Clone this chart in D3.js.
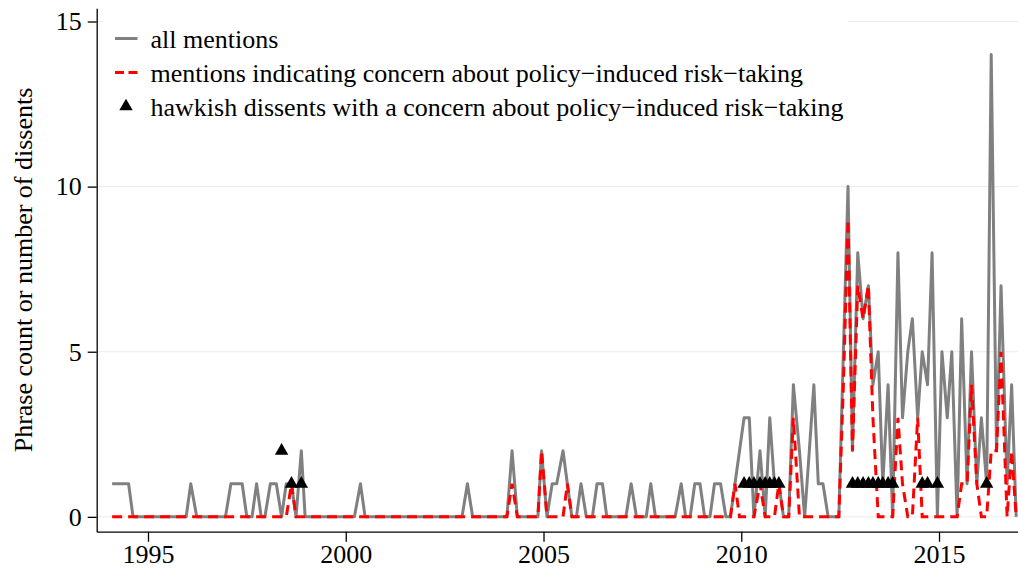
<!DOCTYPE html>
<html>
<head>
<meta charset="utf-8">
<script src="https://cdn.jsdelivr.net/npm/d3@7"></script>
<style>
  html, body { margin: 0; padding: 0; background: #fff; }
  svg { display: block; }
  text { font-family: "Liberation Serif", "Times New Roman", serif; fill: #000; }
</style>
</head>
<body>
<svg id="chart" width="1018" height="571"></svg>
<script>
// FOMC meeting dates (8 scheduled meetings per year)
const meetingDates = [
  "1994-02-04","1994-03-22","1994-05-17","1994-07-06","1994-08-16","1994-09-27","1994-11-15","1994-12-20",
  "1995-02-01","1995-03-28","1995-05-23","1995-07-06","1995-08-22","1995-09-26","1995-11-15","1995-12-19",
  "1996-01-31","1996-03-26","1996-05-21","1996-07-03","1996-08-20","1996-09-24","1996-11-13","1996-12-17",
  "1997-02-05","1997-03-25","1997-05-20","1997-07-02","1997-08-19","1997-09-30","1997-11-12","1997-12-16",
  "1998-02-04","1998-03-31","1998-05-19","1998-07-01","1998-08-18","1998-09-29","1998-11-17","1998-12-22",
  "1999-02-03","1999-03-30","1999-05-18","1999-06-30","1999-08-24","1999-10-05","1999-11-16","1999-12-21",
  "2000-02-02","2000-03-21","2000-05-16","2000-06-28","2000-08-22","2000-10-03","2000-11-15","2000-12-19",
  "2001-01-31","2001-03-20","2001-05-15","2001-06-27","2001-08-21","2001-10-02","2001-11-06","2001-12-11",
  "2002-01-30","2002-03-19","2002-05-07","2002-06-26","2002-08-13","2002-09-24","2002-11-06","2002-12-10",
  "2003-01-29","2003-03-18","2003-05-06","2003-06-25","2003-08-12","2003-09-16","2003-10-28","2003-12-09",
  "2004-01-28","2004-03-16","2004-05-04","2004-06-30","2004-08-10","2004-09-21","2004-11-10","2004-12-14",
  "2005-02-02","2005-03-22","2005-05-03","2005-06-30","2005-08-09","2005-09-20","2005-11-01","2005-12-13",
  "2006-01-31","2006-03-28","2006-05-10","2006-06-29","2006-08-08","2006-09-20","2006-10-25","2006-12-12",
  "2007-01-31","2007-03-21","2007-05-09","2007-06-28","2007-08-07","2007-09-18","2007-10-31","2007-12-11",
  "2008-01-30","2008-03-18","2008-04-30","2008-06-25","2008-08-05","2008-09-16","2008-10-29","2008-12-16",
  "2009-01-28","2009-03-18","2009-04-29","2009-06-24","2009-08-12","2009-09-23","2009-11-04","2009-12-16",
  "2010-01-27","2010-03-16","2010-04-28","2010-06-23","2010-08-10","2010-09-21","2010-11-03","2010-12-14",
  "2011-01-26","2011-03-15","2011-04-27","2011-06-22","2011-08-09","2011-09-21","2011-11-02","2011-12-13",
  "2012-01-25","2012-03-13","2012-04-25","2012-06-20","2012-08-01","2012-09-13","2012-10-24","2012-12-12",
  "2013-01-30","2013-03-20","2013-05-01","2013-06-19","2013-07-31","2013-09-18","2013-10-30","2013-12-18",
  "2014-01-29","2014-03-19","2014-04-30","2014-06-18","2014-07-30","2014-09-17","2014-10-29","2014-12-17",
  "2015-01-28","2015-03-18","2015-04-29","2015-06-17","2015-07-29","2015-09-17","2015-10-28","2015-12-16",
  "2016-01-27","2016-03-16","2016-04-27","2016-06-15","2016-07-27","2016-09-21","2016-11-02","2016-12-14"
];

// all mentions (phrase count per meeting)
const allMentions = [
  1,1,1,1,0,0,0,0,
  0,0,0,0,0,0,0,0,
  1,0,0,0,0,0,0,0,
  1,1,1,0,0,1,0,0,
  1,1,0,1,1,0,2,0,
  0,0,0,0,0,0,0,0,
  0,0,1,0,0,0,0,0,
  0,0,0,0,0,0,0,0,
  0,0,0,0,0,0,0,0,
  1,0,0,0,0,0,0,0,
  0,2,0,0,0,0,0,2,
  0,1,1,2,1,0,0,1,
  0,0,1,1,0,0,0,0,
  0,1,0,0,0,1,0,0,
  0,0,0,1,0,0,1,1,
  0,0,1,1,0,0,1,2,
  3,3,0,2,0,3,1,1,
  0,0,4,2,0,2,4,1,
  1,0,0,0,5,10,2,8,
  6,7,4,5,1,4,0,8,
  3,5,6,3,5,4,8,0,
  5,3,5,0,6,1,5,1,
  3,1,14,2,7,1,4,0
];

// mentions indicating concern about policy-induced risk-taking
const concernMentions = [
  0,0,0,0,0,0,0,0,
  0,0,0,0,0,0,0,0,
  0,0,0,0,0,0,0,0,
  0,0,0,0,0,0,0,0,
  0,0,0,0,1,0,0,0,
  0,0,0,0,0,0,0,0,
  0,0,0,0,0,0,0,0,
  0,0,0,0,0,0,0,0,
  0,0,0,0,0,0,0,0,
  0,0,0,0,0,0,0,0,
  0,1,0,0,0,0,0,2,
  0,0,0,0,1,0,0,0,
  0,0,0,0,0,0,0,0,
  0,0,0,0,0,0,0,0,
  0,0,0,0,0,0,0,0,
  0,0,0,0,0,0,1,0,
  0,0,0,1,0,0,0,1,
  0,0,3,0,0,0,0,0,
  0,0,0,0,4,9,2,7,
  6,7,3,0,0,0,0,3,
  1,0,0,3,0,0,0,0,
  0,0,0,0,1,1,4,1,
  0,0,2,2,5,0,2,0
];

// hawkish dissents with a concern about policy-induced risk-taking
const dissentDates = [
  "1998-05-19","1998-08-18","1998-11-17",
  "2010-01-27","2010-03-16","2010-04-28","2010-06-23","2010-08-10","2010-09-21","2010-11-03","2010-12-14",
  "2012-10-24","2012-12-12",
  "2013-01-30","2013-03-20","2013-05-01","2013-06-19","2013-07-31","2013-09-18","2013-10-30",
  "2014-07-30","2014-09-17","2014-12-17",
  "2016-03-16"
];
const dissentCounts = [
  2,1,1,
  1,1,1,1,1,1,1,1,
  1,1,
  1,1,1,1,1,1,1,
  1,1,1,
  1
];

const xTickYears = [1995, 2000, 2005, 2010, 2015];
const yTickValues = [0, 5, 10, 15];
const legendLabels = [
  "all mentions",
  "mentions indicating concern about policy\u2212induced risk\u2212taking",
  "hawkish dissents with a concern about policy\u2212induced risk\u2212taking"
];
const yTitle = "Phrase count or number of dissents";

// ---------- drawing ----------
(function () {
const FS = 26;
function decYear(s) {
  const d = new Date(s + "T00:00:00Z");
  const yr = d.getUTCFullYear();
  const a = Date.UTC(yr, 0, 1), b = Date.UTC(yr + 1, 0, 1);
  return yr + (d.getTime() - a) / (b - a);
}

const svg = d3.select("#chart");
const pLeft = 96.7, pRight = 1018, pTop = 8.3, pBottom = 531.7;

const x = d3.scaleLinear().domain([1993.703, 2016.997]).range([pLeft, pRight]);
const y = d3.scaleLinear().domain([-0.45, 15.4]).range([pBottom, pTop]);

const series = meetingDates.map((d, i) => ({
  t: decYear(d), all: allMentions[i], concern: concernMentions[i]
}));
const dissents = dissentDates.map((d, i) => ({ t: decYear(d), n: dissentCounts[i] }));

// gridlines
svg.append("g").selectAll("line").data(yTickValues).join("line")
  .attr("x1", pLeft + 0.5).attr("x2", pRight)
  .attr("y1", d => y(d)).attr("y2", d => y(d))
  .attr("stroke", "#eaeaea").attr("stroke-width", 1);

// lines
const lineAll = d3.line().x(d => x(d.t)).y(d => y(d.all));
const lineConcern = d3.line().x(d => x(d.t)).y(d => y(d.concern));

svg.append("path").datum(series).attr("d", lineAll)
  .attr("fill", "none").attr("stroke", "#808080").attr("stroke-width", 3)
  .attr("stroke-linejoin", "round");

svg.append("path").datum(series).attr("d", lineConcern)
  .attr("fill", "none").attr("stroke", "#ff0000").attr("stroke-width", 3)
  .attr("stroke-dasharray", "10,6");

// dissent markers
const tri = d3.symbol().type(d3.symbolTriangle).size(78);
svg.append("g").selectAll("path").data(dissents).join("path")
  .attr("d", tri)
  .attr("transform", d => `translate(${x(d.t)},${y(d.n)})`)
  .attr("fill", "#000");

// legend (white box)
const lg = svg.append("g");
lg.append("rect").attr("x", 103).attr("y", 12).attr("width", 745).attr("height", 115).attr("fill", "#fff");
const rowY = [38.5, 72.5, 106.5];
lg.append("line").attr("x1", 115).attr("x2", 137.5).attr("y1", rowY[0]).attr("y2", rowY[0])
  .attr("stroke", "#808080").attr("stroke-width", 3);
lg.append("line").attr("x1", 115).attr("x2", 137.5).attr("y1", rowY[1]).attr("y2", rowY[1])
  .attr("stroke", "#ff0000").attr("stroke-width", 3).attr("stroke-dasharray", "9,4.5");
lg.append("path").attr("d", tri).attr("transform", `translate(126,${rowY[2]})`).attr("fill", "#000");
lg.selectAll("text").data(legendLabels).join("text")
  .attr("x", 150.5).attr("y", (d, i) => rowY[i] + 9)
  .attr("font-size", FS).text(d => d);

// axes
const xAxis = d3.axisBottom(x).tickValues(xTickYears).tickFormat(d3.format("d"))
  .tickSize(10).tickSizeOuter(0).tickPadding(4);
const gx = svg.append("g").attr("transform", `translate(0,${pBottom})`).call(xAxis);
gx.select(".domain").attr("stroke", "#000").attr("stroke-width", 1.3);
gx.selectAll(".tick line").attr("stroke", "#000").attr("stroke-width", 1.3);
gx.selectAll(".tick text").attr("font-size", FS).attr("font-family", "Liberation Serif, serif").attr("fill", "#000").attr("dy", "0.66em");

const yAxis = d3.axisLeft(y).tickValues(yTickValues).tickFormat(d3.format("d"))
  .tickSize(9).tickSizeOuter(0).tickPadding(6);
const gy = svg.append("g").attr("transform", `translate(${pLeft},0)`).call(yAxis);
gy.select(".domain").attr("stroke", "#000").attr("stroke-width", 1.3);
gy.selectAll(".tick line").attr("stroke", "#000").attr("stroke-width", 1.3);
gy.selectAll(".tick text").attr("font-size", FS).attr("font-family", "Liberation Serif, serif").attr("fill", "#000");

// y title
svg.append("text")
  .attr("transform", `translate(31.5,270) rotate(-90)`)
  .attr("text-anchor", "middle").attr("font-size", FS)
  .text(yTitle);
})();
</script>
</body>
</html>
